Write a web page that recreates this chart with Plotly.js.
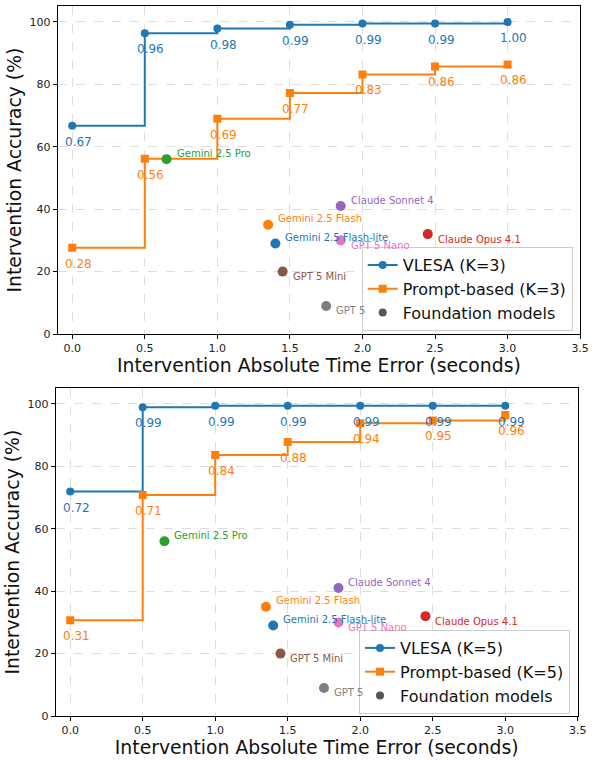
<!DOCTYPE html>
<html>
<head>
<meta charset="utf-8">
<script src="https://cdn.plot.ly/plotly-3.0.1.min.js"></script>
<style>
  html, body { margin: 0; padding: 0; background: #ffffff; }
  #chart { width: 595px; height: 761px; }
</style>
</head>
<body>
<div id="chart"></div>
<script>
// ---- data ----
const errorLevels = [0, 0.5, 1.0, 1.5, 2.0, 2.5, 3.0];
const vlesaK3 = [66.7, 96.3, 97.8, 99.0, 99.4, 99.4, 99.9];
const promptK3 = [27.6, 56.1, 68.9, 77.2, 83.1, 85.7, 86.3];
const vlesaK5 = [71.9, 98.9, 99.4, 99.4, 99.4, 99.4, 99.4];
const promptK5 = [30.7, 70.8, 83.6, 87.8, 93.8, 94.7, 96.4];

const modelNames = ['Gemini 2.5 Flash-lite', 'Gemini 2.5 Flash', 'Gemini 2.5 Pro', 'Claude Opus 4.1',
                    'Claude Sonnet 4', 'GPT 5 Mini', 'GPT 5 Nano', 'GPT 5'];
const modelError = [1.40, 1.35, 0.65, 2.45, 1.85, 1.45, 1.85, 1.75];
const modelAccuracy = [29, 35, 56, 32, 41, 20, 30, 9];

const xTicks = [0, 0.5, 1.0, 1.5, 2.0, 2.5, 3.0, 3.5];
const yTicks = [0, 20, 40, 60, 80, 100];

// ---- styling ----
const FONT = 'DejaVu Sans, Liberation Sans, sans-serif';
const BLUE = '#1f77b4', ORANGE = '#ff7f0e';
const modelColors = ['#1f77b4', '#ff7f0e', '#2ca02c', '#d62728', '#9467bd', '#8c564b', '#e377c2', '#7f7f7f'];
const labelAbove = new Set(['Gemini 2.5 Flash-lite', 'Gemini 2.5 Flash', 'Gemini 2.5 Pro', 'Claude Sonnet 4']);

function xAxis(domain, anchor) {
  return {
    domain, anchor, range: [-0.1, 3.5],
    tickmode: 'array', tickvals: xTicks, ticktext: xTicks.map(v => v.toFixed(1)),
    ticks: 'outside', ticklen: 4, tickwidth: 1, tickcolor: '#000',
    showline: true, mirror: true, linecolor: '#000', linewidth: 1,
    showgrid: true, gridcolor: '#d4d4d4', griddash: 'dash', gridwidth: 0.8,
    zeroline: false, automargin: false,
    tickfont: { family: FONT, size: 11, color: '#222' },
    title: { text: 'Intervention Absolute Time Error (seconds)', font: { family: FONT, size: 18.8, color: '#111' }, standoff: 0 }
  };
}
function yAxis(domain, anchor) {
  return {
    domain, anchor, range: [0, 105],
    tickmode: 'array', tickvals: yTicks,
    ticks: 'outside', ticklen: 4, tickwidth: 1, tickcolor: '#000',
    showline: true, mirror: true, linecolor: '#000', linewidth: 1,
    showgrid: true, gridcolor: '#d4d4d4', griddash: 'dash', gridwidth: 0.8,
    zeroline: false, automargin: false,
    tickfont: { family: FONT, size: 11, color: '#222' },
    title: { text: 'Intervention Accuracy (%)', font: { family: FONT, size: 18.8, color: '#111' }, standoff: 2 }
  };
}

const traces = [];
const annotations = [];

function panel(xa, ya, vlesa, prompt, k, legendId) {
  traces.push({
    x: errorLevels, y: vlesa, xaxis: xa, yaxis: ya, legend: legendId,
    mode: 'lines+markers', name: 'VLESA (K=' + k + ')',
    line: { color: BLUE, width: 2, shape: 'hv' },
    marker: { symbol: 'circle', size: 8, color: BLUE }
  });
  traces.push({
    x: errorLevels, y: prompt, xaxis: xa, yaxis: ya, legend: legendId,
    mode: 'lines+markers', name: 'Prompt-based (K=' + k + ')',
    line: { color: ORANGE, width: 2, shape: 'hv' },
    marker: { symbol: 'square', size: 8, color: ORANGE }
  });
  traces.push({
    x: modelError, y: modelAccuracy, xaxis: xa, yaxis: ya,
    mode: 'markers', showlegend: false, hovertext: modelNames,
    marker: { symbol: 'circle', size: 10, color: modelColors }
  });
  // legend entry for the foundation-model group
  traces.push({
    x: [null], y: [null], xaxis: xa, yaxis: ya, legend: legendId,
    mode: 'markers', name: 'Foundation models',
    marker: { symbol: 'circle', size: 8, color: '#555555' }
  });

  [[vlesa, BLUE], [prompt, ORANGE]].forEach(([vals, col]) => {
    vals.forEach((v, i) => {
      annotations.push({
        x: errorLevels[i], y: v, xref: xa, yref: ya,
        text: (v / 100).toFixed(2), showarrow: false,
        xshift: 6, yshift: -16,
        font: { family: FONT, size: 12, color: col }
      });
    });
  });
  modelNames.forEach((name, i) => {
    annotations.push({
      x: modelError[i], y: modelAccuracy[i], xref: xa, yref: ya,
      text: name, showarrow: false, xanchor: 'left', yanchor: 'middle',
      xshift: 8, yshift: labelAbove.has(name) ? 6 : -5,
      font: { family: FONT, size: 10, color: modelColors[i] }
    });
  });
}

panel('x', 'y', vlesaK3, promptK3, 3, 'legend');
panel('x2', 'y2', vlesaK5, promptK5, 5, 'legend2');

const legendStyle = {
  xref: 'paper', yref: 'paper', xanchor: 'right', yanchor: 'middle',
  bgcolor: '#ffffff', bordercolor: '#cccccc', borderwidth: 1,
  font: { family: FONT, size: 16, color: '#111' }, tracegroupgap: 0
};

const layout = {
  width: 595, height: 761,
  margin: { l: 0, r: 0, t: 0, b: 0 },
  paper_bgcolor: '#ffffff', plot_bgcolor: '#ffffff',
  showlegend: true,
  xaxis: xAxis([0.097, 0.975], 'y'),
  yaxis: yAxis([0.561, 0.992], 'x'),
  xaxis2: xAxis([0.0936, 0.971], 'y2'),
  yaxis2: yAxis([0.0591, 0.4898], 'x2'),
  legend: Object.assign({ x: 0.9625, y: 1 - 289 / 761 }, legendStyle),
  legend2: Object.assign({ x: 0.958, y: 1 - 672 / 761 }, legendStyle),
  annotations
};

Plotly.newPlot('chart', traces, layout, { displayModeBar: false, staticPlot: true });
</script>
</body>
</html>
